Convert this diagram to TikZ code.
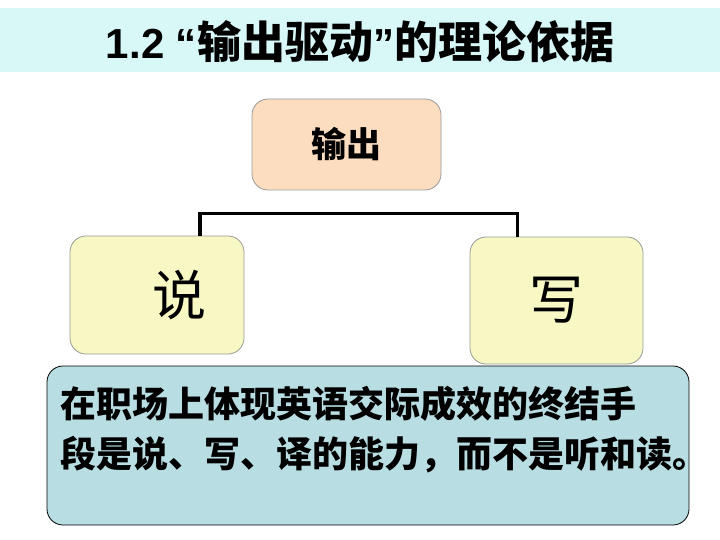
\documentclass[tikz,border=0pt]{standalone}
\usepackage{fontspec}
\setmainfont{Liberation Sans}
\newfontfamily\cjk{Noto Sans CJK SC}
\usepackage{tikz}
\usetikzlibrary{positioning}
\definecolor{bandcyan}{HTML}{D8F7F7}
\definecolor{peach}{HTML}{FCDDC0}
\definecolor{paleyellow}{HTML}{F7F8C4}
\definecolor{paleblue}{HTML}{B8DDE2}

\begin{document}
\begin{tikzpicture}[x=1pt,y=-1pt,
  box/.style={draw=gray!80,rounded corners=16pt,inner sep=0pt,line width=0.8pt},
  link/.style={line width=3.4pt,black}]
  \useasboundingbox (0,0) rectangle (720,540);
  % title band
  \fill[bandcyan] (0,8) rectangle (720,72);
  \node (title) at (360,42) {\fontsize{42}{46}\selectfont\bfseries 1.2 “{\cjk\fontsize{44}{48}\selectfont 输出驱动}”{\cjk\fontsize{44}{48}\selectfont 的理论依据}};
  % boxes
  \node[box,fill=peach,minimum width=189,minimum height=91] (out) at (346.5,144.5)
    {\cjk\bfseries\fontsize{35}{38}\selectfont 输出};
  \node[box,fill=paleyellow,minimum width=174,minimum height=118] (shuo) at (157,295)
    {\cjk\fontsize{54}{58}\selectfont\hspace*{44pt}说};
  \node[box,fill=paleyellow,minimum width=173,minimum height=127] (xie) at (556.5,300.5)
    {\cjk\fontsize{54}{58}\selectfont 写};
  % bracket over the two outputs
  \draw[link] ([xshift=43]shuo.north) -- ++(0,-22) -| ([xshift=-39]xie.north);
  % note
  \node[box,draw=black,fill=paleblue,minimum width=642,minimum height=159] (note) at (368,445.5) {};
  \node[anchor=north west,inner sep=0pt,align=left,font={\cjk\bfseries\fontsize{36}{50}\selectfont}] (notetext) at (60,386)
    {在职场上体现英语交际成效的终结手\\段是说、写、译的能力，而不是听和读。};
\end{tikzpicture}
\end{document}
